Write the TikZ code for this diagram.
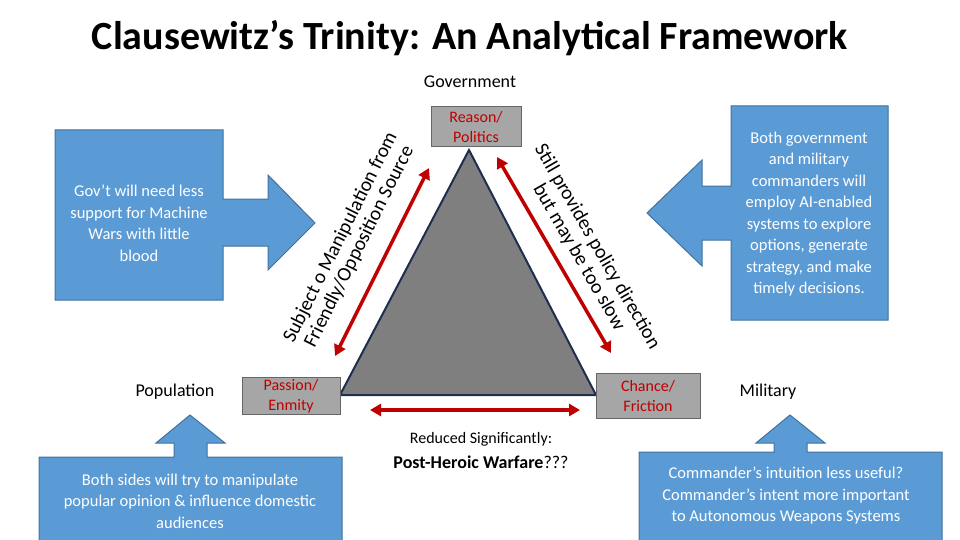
\documentclass[tikz,border=0pt]{standalone}
\usepackage{fontspec}
\setmainfont{Carlito}
\usetikzlibrary{arrows.meta}
\definecolor{blu}{HTML}{5B9BD5}
\definecolor{blb}{HTML}{41719C}
\definecolor{redd}{HTML}{C00000}
\definecolor{gbox}{HTML}{A6A6A6}
\definecolor{tri}{HTML}{7F7F7F}
\definecolor{navy}{HTML}{1F2D4E}
\begin{document}
\begin{tikzpicture}[x=1pt,y=-1pt,
  bluesh/.style={fill=blu,draw=blb,line width=1pt},
  gbx/.style={fill=gbox,draw=gray!80!black,line width=1pt,text=redd,font=\fontsize{16}{20}\selectfont,align=center,inner sep=1pt},
  redarr/.style={draw=redd,line width=3.5pt,{Triangle[length=11pt,width=12pt]}-{Triangle[length=11pt,width=12pt]}},
  wtxt/.style={text=white,align=center,font=\fontsize{16.5}{21.5}\selectfont},
  lbl/.style={font=\fontsize{18}{22}\selectfont}]
\useasboundingbox (0,0) rectangle (960,540);
% title
\node[font=\bfseries\fontsize{40}{44}\selectfont] (title) at (470,38) {Clausewitz’s Trinity: An Analytical Framework};
\node[lbl] (gov) at (470,82) {Government};
\node[lbl] (pop) at (175,392) {Population};
\node[lbl] (mil) at (768,392) {Military};
% left blue arrow
\draw[bluesh] (55,130) -- (223,130) -- (223,199) -- (268,199) -- (268,175) -- (315,223) -- (268,270) -- (268,246) -- (223,246) -- (223,300) -- (55,300) -- cycle;
\node[wtxt] (lt) at (139,223) {Gov’t will need less\\support for Machine\\Wars with little\\blood};
% right blue arrow
\draw[bluesh] (888,106) -- (731,106) -- (731,186) -- (702,186) -- (702,160) -- (647,213) -- (702,266) -- (702,240) -- (731,240) -- (731,320) -- (888,320) -- cycle;
\node[wtxt] (rt) at (809,214) {Both government\\and military\\commanders will\\employ AI-enabled\\systems to explore\\options, generate\\strategy, and make\\timely decisions.};
% bottom left
\draw[bluesh] (39,545) -- (39,457) -- (174,457) -- (174,443) -- (156,443) -- (190,415) -- (225,443) -- (207,443) -- (207,457) -- (342,457) -- (342,545) -- cycle;
\node[wtxt] (blt) at (190,501) {Both sides will try to manipulate\\popular opinion \& influence domestic\\audiences};
% bottom right
\draw[bluesh] (639,545) -- (639,452) -- (774,452) -- (774,443) -- (756,443) -- (790,415) -- (825,443) -- (807,443) -- (807,452) -- (942,452) -- (942,545) -- cycle;
\node[wtxt] (brt) at (786,496) {Commander’s intuition less useful?\\Commander’s intent more important\\to Autonomous Weapons Systems};
% triangle
\coordinate (A) at (469,150);
\coordinate (B) at (340,395);
\coordinate (C) at (596,395);
\draw[fill=tri,draw=navy,line width=2pt] (A) -- (B) -- (C) -- cycle;
\node[gbx,minimum width=90pt,minimum height=40pt] (reason) at (476,127) {Reason/\\Politics};
\node[gbx,minimum width=98pt,minimum height=37pt] (passion) at (291,396) {Passion/\\Enmity};
\node[gbx,minimum width=104pt,minimum height=45pt] (chance) at (648,396) {Chance/\\Friction};
% red arrows
\coordinate (l1) at (335,356);
\coordinate (l2) at (429,168);
\coordinate (r1) at (497,157);
\coordinate (r2) at (611,353);
\coordinate (b1) at (370,410);
\coordinate (b2) at (580,410);
\draw[redarr] (l1) -- (l2);
\draw[redarr] (r1) -- (r2);
\draw[redarr] (b1) -- (b2);
% rotated texts
\node[font=\fontsize{20}{21}\selectfont,rotate=63.5,align=center] (lt2) at (350,242) {Subject o Manipulation from\\Friendly/Opposition Source};
\node[font=\fontsize{20}{21}\selectfont,rotate=-60,align=center] (rt2) at (588,252) {Still provides policy direction\\but may be too slow};
% bottom text
\node[font=\fontsize{16}{18}\selectfont] (red) at (481,439) {Reduced Significantly:};
\node[font=\fontsize{18}{20}\selectfont] (post) at (481,462) {\textbf{Post-Heroic Warfare}???};
\end{tikzpicture}
\end{document}
